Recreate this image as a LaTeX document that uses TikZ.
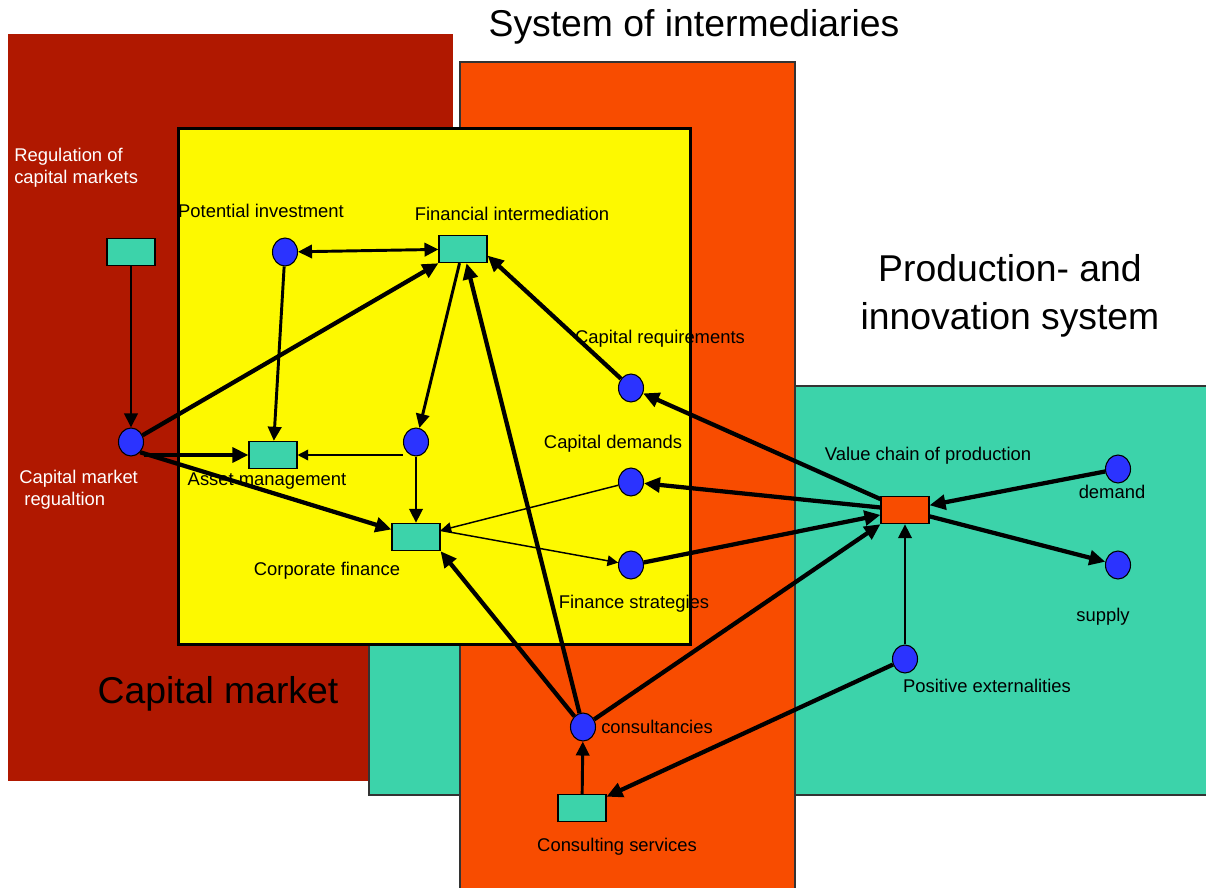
\documentclass[tikz,border=0pt]{standalone}
\usepackage{fontspec}
\setmainfont{Liberation Sans}
\usetikzlibrary{arrows.meta,shapes.geometric}
\definecolor{capred}{RGB}{176,24,0}
\definecolor{interorange}{RGB}{248,76,0}
\definecolor{prodgreen}{RGB}{60,211,170}
\definecolor{boxyellow}{RGB}{253,249,0}
\definecolor{dotblue}{RGB}{43,51,255}
\begin{document}
\begin{tikzpicture}[x=0.75pt,y=0.75pt]
\tikzstyle{every node}+=[inner sep=0pt]
\tikzstyle{place}=[draw=black,fill=dotblue,ellipse,minimum width=18.75pt,minimum height=21pt,line width=0.8pt]
\tikzstyle{trans}=[draw=black,fill=prodgreen,rectangle,minimum width=36pt,minimum height=20.5pt,line width=0.8pt]
\tikzstyle{lbl}=[font=\fontsize{13.8}{17}\selectfont]
\tikzstyle{title}=[font=\fontsize{28}{36}\selectfont]
\tikzstyle{flowthin}=[line width=1.1pt,-{Triangle[length=8pt,width=8pt]}]
\tikzstyle{flowmid}=[line width=2.2pt,-{Triangle[length=10.5pt,width=10pt]}]
\tikzstyle{flowthick}=[line width=3.2pt,-{Triangle[length=12pt,width=11pt]}]
\useasboundingbox (0,0) rectangle (1206,-888);
\fill [capred] (8,-34) rectangle (453,-781);
\filldraw [fill=prodgreen,draw=black!80,line width=0.8pt] (369,-386) rectangle (1210,-795);
\filldraw [fill=interorange,draw=black!80,line width=0.8pt] (460,-62) rectangle (795,-892);
\filldraw [fill=boxyellow,draw=black,line width=2.25pt] (178.7,-128.5) rectangle (690,-644);
\node [title,anchor=base] (intertitle) at (694,-37) {System of intermediaries};
\node [title,align=center] (prodtitle) at (1010,-296) {Production- and\\innovation system};
\node [title,anchor=base] (captitle) at (218,-703) {Capital market};
\node [trans] (regbox) at (131,-252) {};
\node [place] (cmreg) at (131,-442) {};
\node [place] (potinv) at (285,-252) {};
\node [trans] (finint) at (463,-249) {};
\node [trans] (assetmgmt) at (273,-455) {};
\node [place] (hub) at (416,-442) {};
\node [trans] (corpfin) at (416,-537) {};
\node [place] (capreq) at (631,-388) {};
\node [place] (capdem) at (631,-482) {};
\node [place] (finstrat) at (631,-565) {};
\node [trans,fill=interorange] (valchain) at (905,-510) {};
\node [place] (demand) at (1118,-469) {};
\node [place] (supply) at (1118,-565) {};
\node [place] (posext) at (905,-659) {};
\node [place] (consult) at (583,-727) {};
\node [trans] (consserv) at (582,-808) {};
\node [lbl,text=white,anchor=west,align=left] (reglbl) at (14,-167.6) {Regulation of\\capital markets};
\node [lbl,text=white,anchor=west,align=left] (cmreglbl) at (19,-489.6) {Capital market\\\ regualtion};
\node [lbl,anchor=base] (potinvlbl) at (261,-217) {Potential investment};
\node [lbl,anchor=base] (finintlbl) at (512,-220) {Financial intermediation};
\node [lbl,anchor=base] (capreqlbl) at (660,-343) {Capital requirements};
\node [lbl,anchor=base] (capdemlbl) at (613,-448) {Capital demands};
\node [lbl,anchor=base] (finstratlbl) at (634,-608) {Finance strategies};
\node [lbl,anchor=base] (assetlbl) at (267,-485) {Asset management};
\node [lbl,anchor=base] (corpfinlbl) at (327,-575) {Corporate finance};
\node [lbl,anchor=base] (valchainlbl) at (928,-460) {Value chain of production};
\node [lbl,anchor=base] (demandlbl) at (1112,-498) {demand};
\node [lbl,anchor=base] (supplylbl) at (1103,-621) {supply};
\node [lbl,anchor=base] (posextlbl) at (987,-692) {Positive externalities};
\node [lbl,anchor=base] (consultlbl) at (657,-733) {consultancies};
\node [lbl,anchor=base] (consservlbl) at (617,-851) {Consulting services};
\draw [flowmid] (regbox) -- (cmreg);
\draw [flowmid,{Triangle[length=10.5pt,width=10pt]}-{Triangle[length=10.5pt,width=10pt]}] (potinv) -- (finint);
\draw [flowmid] (potinv) -- (assetmgmt);
\draw [flowthick] (cmreg) -- (finint.south west);
\draw [flowthick] (assetmgmt.west -| cmreg.east) -- (assetmgmt.west);
\draw [flowthick] (cmreg.south east) -- (corpfin);
\draw [flowmid] (finint) -- (hub);
\draw [flowthin] (assetmgmt.east -| hub.west) -- (assetmgmt.east);
\draw [flowmid] (hub) -- (corpfin);
\draw [flowthick] (capreq) -- (finint.-15);
\draw [flowthick] (consult) -- (finint);
\draw [flowthick] (consult) -- (corpfin.south east);
\draw [flowthick] (consult) -- (valchain.south west);
\draw [flowthin] (capdem) -- (corpfin.15);
\draw [flowthin] (corpfin.15) -- (finstrat);
\draw [flowthick] (valchain) -- (capreq);
\draw [flowthick] (valchain) -- (capdem);
\draw [flowthick] (finstrat) -- (valchain);
\draw [flowthick] (demand) -- (valchain);
\draw [flowthick] (valchain) -- (supply);
\draw [flowmid] (posext) -- (valchain);
\draw [flowthick] (posext) -- (consserv);
\draw [flowmid] (consserv) -- (consult);
\end{tikzpicture}
\end{document}
